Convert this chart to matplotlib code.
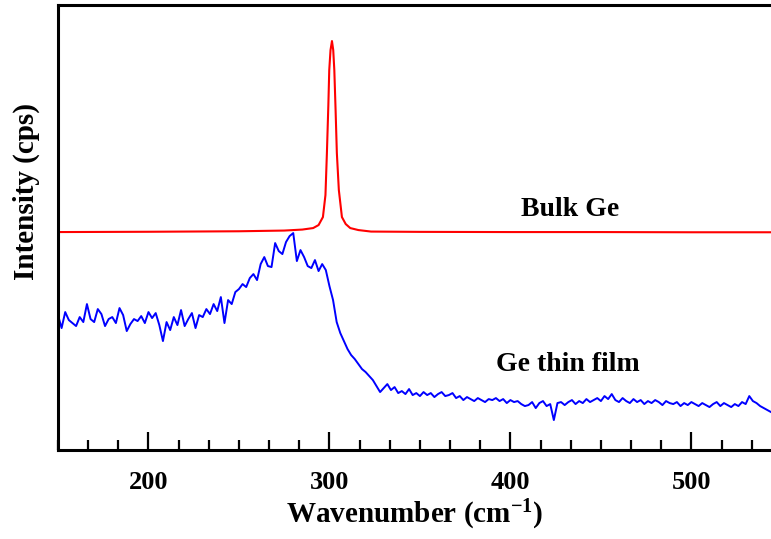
import numpy as np
import matplotlib
matplotlib.use('Agg')
from matplotlib import pyplot as plt
from matplotlib.ticker import MultipleLocator

plt.rcParams['font.family'] = ['Liberation Serif', 'DejaVu Serif']
plt.rcParams['font.weight'] = 'bold'
plt.rcParams['mathtext.fontset'] = 'custom'
plt.rcParams['mathtext.rm'] = 'Liberation Serif:bold'
plt.rcParams['mathtext.bf'] = 'Liberation Serif:bold'
plt.rcParams['mathtext.default'] = 'bf'

# Bulk Ge (red)
bulk_x = [150, 200, 250, 275, 285, 291, 294, 296.4, 297.8, 298.6, 299.4, 299.9,
          300.6, 301.4, 302.1, 302.7, 303.4, 304.1, 305.2, 306.9, 309, 311.5,
          316, 323, 350, 400, 450, 500, 544]
bulk_y = [218, 218.3, 218.8, 219.5, 220.5, 222, 225, 233, 255, 297, 345, 380,
          400, 409, 400, 380, 340, 297, 260, 233, 226, 222,
          220, 218.5, 218.2, 218, 218, 217.8, 217.8]

# Ge thin film (blue), one value every 2 cm-1 from 150 to 544
film_x = np.arange(150, 546, 2)
film_y = [135, 122, 138, 130, 127, 124, 133, 128, 146, 131,
          128, 141, 136, 124, 131, 133, 127, 142, 135, 119,
          126, 131, 129, 134, 127, 138, 132, 137, 125, 109,
          128, 120, 133, 125, 140, 124, 131, 137, 122, 135,
          133, 141, 136, 146, 139, 153, 127, 150, 146, 158,
          161, 166, 163, 172, 176, 170, 186, 193, 184, 183,
          207, 199, 196, 208, 214, 217, 189, 200, 193, 184,
          182, 190, 179, 186, 180, 164, 150, 128, 117, 109,
          101, 95, 91, 86, 81, 78, 74, 70, 64, 58,
          62, 66, 60, 63, 57, 59, 56, 61, 55, 57,
          54, 58, 55, 57, 53, 56, 58, 54, 55, 57,
          52, 54, 50, 53, 51, 49, 52, 50, 48, 51,
          50, 52, 49, 51, 47, 50, 48, 49, 46, 44,
          45, 48, 42, 47, 49, 44, 46, 30, 47, 48,
          45, 48, 50, 46, 49, 47, 51, 48, 50, 52,
          49, 54, 51, 56, 50, 48, 52, 49, 47, 51,
          48, 50, 46, 49, 47, 50, 48, 45, 49, 47,
          46, 48, 44, 47, 45, 48, 46, 44, 47, 45,
          43, 46, 48, 44, 47, 45, 43, 46, 44, 48,
          46, 54, 49, 47, 44, 42, 40, 38]

fig = plt.figure(figsize=(7.71, 5.39), dpi=100)
ax = fig.add_axes([0.0752, 0.165, 0.9248, 0.8256])

ax.plot(bulk_x, bulk_y, color='#ff0000', lw=1.5)
ax.plot(film_x, film_y, color='#0000ff', lw=1.4)

ax.text(406, 234, 'Bulk Ge', fontsize=20, fontweight='bold')
ax.text(392, 79, 'Ge thin film', fontsize=20, fontweight='bold')

ax.set_xlim(150, 544)
ax.set_ylim(0, 445)
ax.xaxis.set_major_locator(MultipleLocator(100))
ax.xaxis.set_minor_locator(MultipleLocator(100 / 6))
ax.tick_params(axis='x', which='major', direction='in', length=13, width=1.6,
               labelsize=19, pad=15)
ax.tick_params(axis='x', which='minor', direction='in', length=7, width=1.6)
ax.set_yticks([])
for s in ['left', 'bottom', 'top']:
    ax.spines[s].set_linewidth(2.2)
ax.spines['right'].set_visible(False)

ax.set_xlabel('Wavenumber (cm$^{-1}$)', fontsize=21, fontweight='bold', labelpad=3)
ax.set_ylabel('Intensity (cps)', fontsize=21, fontweight='bold')
ax.yaxis.set_label_coords(-0.025, 0.58)

fig.savefig('out.png', dpi=100)
